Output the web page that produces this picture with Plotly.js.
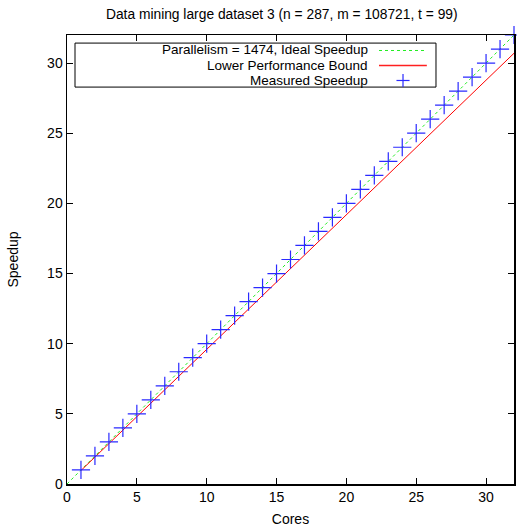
<!DOCTYPE html>
<html>
<head>
<meta charset="utf-8">
<script src="https://cdn.plot.ly/plotly-3.0.1.min.js"></script>
<style>html,body{margin:0;padding:0;background:#fff;}#chart{width:517px;height:527px;}</style>
</head>
<body>
<div id="chart"></div>
<script>
// Data
const idealCores = [0, 32];
const idealSpeedup = [0, 32];
const boundCores = [1, 8, 16, 24, 32];
const boundSpeedup = [0.96, 7.68, 15.35, 23.03, 30.7];
const measuredCores = [1,2,3,4,5,6,7,8,9,10,11,12,13,14,15,16,17,18,19,20,21,22,23,24,25,26,27,28,29,30,31,32];
const measuredSpeedup = [1,2,3,4,5,6,7,8,9,10,11,12,13,14,15,16,17,18,19,20,21,22,23,24,25,26,27,28,29,30,31,32];
const xTicks = [0, 5, 10, 15, 20, 25, 30];
const yTicks = [0, 5, 10, 15, 20, 25, 30];
const legendLabels = ["Parallelism = 1474, Ideal Speedup", "Lower Performance Bound", "Measured Speedup"];

const font = "Liberation Sans, Arial, Helvetica, sans-serif";

const traces = [
  {x: idealCores, y: idealSpeedup, mode: 'lines', line: {color: '#22ee22', width: 1, dash: '3px,3px'}, showlegend: false, hoverinfo: 'skip'},
  {x: boundCores, y: boundSpeedup, mode: 'lines', line: {color: '#ff0000', width: 1}, showlegend: false, hoverinfo: 'skip'},
  {x: measuredCores, y: measuredSpeedup, mode: 'markers', cliponaxis: false,
   marker: {symbol: 'cross-thin', size: 13, line: {color: '#2a2aff', width: 1.2}}, showlegend: false}
];

// custom gnuplot-style legend (paper coords); plot area 447x449 px
const lx0 = 0.0179, lx1 = 0.8255, ly0 = 0.884, ly1 = 0.982;
const textX = 0.6756;
const rowY = [0.9666, 0.9321, 0.8987];
const sampleY = [0.9655, 0.9321, 0.8987];
const sx0 = 0.698, sx1 = 0.805, pcx = 0.7517, phx = 0.0146, phy = 0.0145;

const shapes = [
  {type: 'rect', xref: 'paper', yref: 'paper', x0: lx0, x1: lx1, y0: ly0, y1: ly1, line: {color: '#000', width: 1}, fillcolor: 'rgba(0,0,0,0)'},
  {type: 'line', xref: 'paper', yref: 'paper', x0: sx0, x1: sx1, y0: sampleY[0], y1: sampleY[0], line: {color: '#22ee22', width: 1, dash: '3px,3px'}},
  {type: 'line', xref: 'paper', yref: 'paper', x0: sx0, x1: sx1, y0: sampleY[1], y1: sampleY[1], line: {color: '#ff2020', width: 1.3}},
  {type: 'line', xref: 'paper', yref: 'paper', x0: pcx - phx, x1: pcx + phx, y0: sampleY[2], y1: sampleY[2], line: {color: '#2a2aff', width: 1.2}},
  {type: 'line', xref: 'paper', yref: 'paper', x0: pcx, x1: pcx, y0: sampleY[2] - phy, y1: sampleY[2] + phy, line: {color: '#2a2aff', width: 1.2}}
];

const annotations = legendLabels.map((t, i) => ({
  text: t, xref: 'paper', yref: 'paper', x: textX, y: rowY[i], xanchor: 'right', yanchor: 'middle',
  showarrow: false, borderpad: 0, font: {family: font, size: 13.5, color: '#000'}
}));

const layout = {
  width: 517, height: 527,
  margin: {l: 67, r: 3, t: 35, b: 43},
  paper_bgcolor: '#fff', plot_bgcolor: '#fff',
  font: {family: font, size: 14, color: '#000'},
  title: {text: 'Data mining large dataset 3 (n = 287, m = 108721, t = 99)', x: 0.545, xanchor: 'center', y: 0.973, yanchor: 'middle', font: {family: font, size: 13.8, color: '#000'}},
  xaxis: {
    range: [0, 32], tickvals: xTicks, ticktext: xTicks.map(String), ticks: 'inside', ticklen: 6, tickcolor: '#000', tickwidth: 1,
    showline: true, linecolor: '#000', linewidth: 1.5, mirror: 'ticks', showgrid: false, zeroline: false,
    title: {text: 'Cores', standoff: 11, font: {family: font, size: 14}}, tickfont: {family: font, size: 14}
  },
  yaxis: {
    range: [0, 32], tickvals: yTicks, ticktext: yTicks.map(String), ticks: 'inside', ticklen: 6, tickcolor: '#000', tickwidth: 1,
    showline: true, linecolor: '#000', linewidth: 1.5, mirror: 'ticks', showgrid: false, zeroline: false,
    title: {text: 'Speedup', standoff: 25, font: {family: font, size: 14}}, tickfont: {family: font, size: 14}
  },
  shapes: shapes,
  annotations: annotations,
  showlegend: false
};

Plotly.newPlot('chart', traces, layout, {staticPlot: true, displayModeBar: false});
</script>
</body>
</html>
